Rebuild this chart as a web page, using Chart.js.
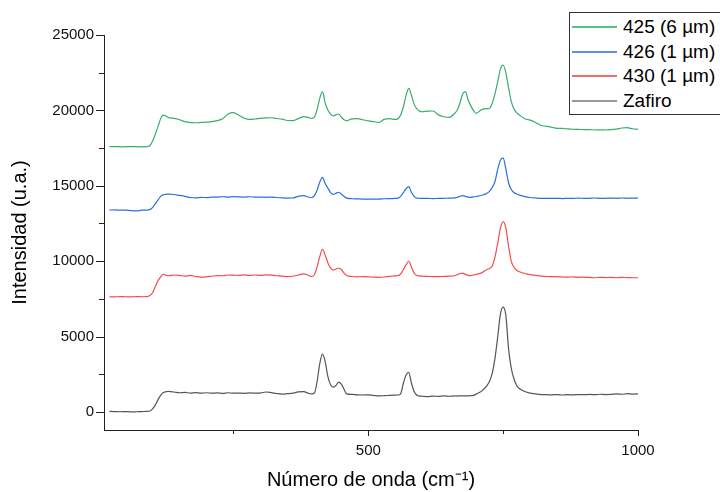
<!DOCTYPE html>
<html>
<head>
<meta charset="utf-8">
<script src="https://cdn.jsdelivr.net/npm/chart.js@4"></script>
<style>
  html, body { margin: 0; padding: 0; background: #fff; overflow: hidden; }
  #wrap { position: relative; width: 720px; height: 492px; }
  #legend { position: absolute; left: 569px; top: 12px; width: 170px; height: 103px; border: 1px solid #333; background: #fff; box-sizing: border-box; }
  .row { position: absolute; left: 0; height: 24px; width: 170px; font-family: 'Liberation Sans', Arial, sans-serif; font-size: 19px; color: #000; }
  .row .ln { position: absolute; left: 2px; top: 11px; width: 45px; height: 2px; }
  .row .tx { position: absolute; left: 53px; top: 0; line-height: 24px; white-space: nowrap; }
</style>
</head>
<body>
<div id="wrap">
  <canvas id="c" width="720" height="492"></canvas>
  <div id="legend"></div>
</div>
<script>
const seriesLabels = ['425 (6 µm)', '426 (1 µm)', '430 (1 µm)', 'Zafiro'];
const seriesColors = ['#38ad6c', '#2a6fdc', '#f24c4c', '#555555'];
const legendColors = ['#5cc08a', '#5a92e6', '#f46a6a', '#999999'];

const wavenumbers = [20,30,40,50,60,70,80,90,95,100,105,110,115,120,125,130,
  140,150,160,170,180,190,200,210,220,230,240,250,260,270,280,290,300,310,320,330,340,350,360,370,380,390,
  395,400,405,410,415,420,425,430,435,440,445,450,455,
  460,470,480,490,500,510,520,530,540,550,
  555,560,565,570,575,580,585,590,595,
  600,610,620,630,640,650,660,
  665,670,675,680,685,690,695,
  700,710,720,
  725,730,735,740,745,750,755,760,765,770,775,780,
  790,800,810,820,830,840,850,860,870,880,890,900,910,920,930,940,950,960,970,980,990,1000];

const s425 = [17590,17600,17580,17590,17600,17590,17580,17600,
  17650,17950,18400,18920,19450,19690,19620,19520,
  19470,19380,19250,19190,19180,19200,19220,19250,19320,19450,19760,19850,19680,19480,19400,19430,19470,19500,19510,19460,19420,19330,19320,19450,19580,19520,
  19470,19550,20050,20800,21240,20500,20020,19750,19630,19720,19760,19550,19380,
  19310,19440,19450,19380,19300,19250,19200,19420,19450,19400,
  19450,19700,20240,21000,21460,21000,20400,20100,19950,
  19910,19950,19960,19700,19580,19540,19800,
  20020,20500,21100,21250,20700,20300,20000,
  19800,20050,20120,
  20140,20500,21130,21900,22750,23010,22500,21500,20600,20100,19850,19700,
  19450,19350,19200,19000,18950,18880,18810,18800,18770,18750,18740,18720,18730,18700,18710,18700,18720,18760,18830,18850,18780,18740];

const s426 = [13390,13400,13380,13390,13350,13330,13380,13390,
  13420,13550,13800,14050,14300,14400,14430,14440,
  14420,14360,14300,14220,14200,14230,14210,14240,14250,14270,14250,14280,14260,14250,14270,14240,14250,14230,14250,14220,14200,14180,14190,14300,14340,14240,
  14220,14350,14700,15250,15560,15150,14850,14550,14430,14500,14570,14450,14300,
  14180,14140,14130,14120,14120,14110,14120,14140,14150,14160,
  14180,14300,14550,14800,14940,14550,14300,14180,14170,
  14160,14160,14150,14160,14170,14180,14200,
  14230,14300,14340,14300,14250,14230,14260,
  14290,14370,14500,
  14650,14900,15300,16100,16700,16850,16100,15200,14750,14550,14450,14380,
  14280,14220,14190,14170,14170,14160,14170,14150,14170,14160,14180,14160,14170,14190,14160,14170,14180,14170,14190,14170,14180,14180];

const s430 = [7640,7630,7650,7640,7630,7650,7640,7650,
  7720,7900,8300,8700,8950,9130,9060,9030,
  9080,9060,9000,9050,8980,8940,8960,9000,9040,9030,9080,9070,9060,9090,9050,9080,9060,9090,9070,9030,9010,8970,9000,9080,9150,9050,
  8980,9100,9600,10300,10790,10400,9900,9550,9410,9480,9530,9450,9200,
  9050,8980,8960,8970,8960,8940,8930,8950,8990,9020,
  9030,9150,9450,9750,10010,9600,9200,9050,9020,
  9000,8990,8970,8970,8990,9000,9030,
  9100,9180,9200,9120,9060,9040,9080,
  9130,9220,9450,
  9520,9700,10300,11200,12200,12620,12200,11000,10000,9600,9400,9300,
  9180,9100,9050,9010,8980,8970,8960,8950,8940,8960,8930,8940,8920,8900,8930,8910,8920,8900,8920,8910,8900,8900];

const zafiro = [30,20,10,25,0,10,25,30,
  60,200,450,800,1100,1280,1340,1360,
  1320,1270,1290,1250,1280,1240,1270,1240,1260,1230,1270,1240,1250,1230,1260,1240,1250,1320,1280,1220,1180,1210,1240,1330,1340,1220,
  1200,1250,2000,3200,3830,3350,2350,1800,1640,1750,1970,1850,1500,
  1200,1160,1130,1120,1130,1090,1060,1080,1100,1110,
  1120,1200,1900,2450,2620,1900,1350,1100,1050,
  1040,1020,1050,1030,1060,1040,1060,
  1050,1070,1060,1070,1060,1080,1100,
  1180,1380,1750,
  2050,2600,3600,5000,6500,6950,6400,4200,2900,2200,1750,1550,
  1350,1250,1200,1150,1140,1130,1150,1120,1140,1130,1150,1140,1160,1140,1170,1150,1160,1190,1170,1210,1180,1200];

const xTickValues = [250, 500, 750, 1000];
const yTickValues = [0,2500,5000,7500,10000,12500,15000,17500,20000,22500,25000];

const allSeries = [s425, s426, s430, zafiro];
const FONT = "'Liberation Sans', Arial, sans-serif";

const datasets = allSeries.map((vals, i) => ({
  label: seriesLabels[i],
  data: wavenumbers.map((w, k) => ({ x: w, y: vals[k] })),
  borderColor: seriesColors[i],
  backgroundColor: seriesColors[i],
  borderWidth: 1.2,
  pointRadius: 0,
  cubicInterpolationMode: 'monotone',
  fill: false
}));

const tickMarks = {
  id: 'tickMarks',
  afterDraw(chart) {
    const { ctx, scales: { x, y }, chartArea: a } = chart;
    ctx.save();
    ctx.strokeStyle = '#222';
    ctx.lineWidth = 1;
    ctx.beginPath();
    xTickValues.forEach(v => {
      const px = Math.round(x.getPixelForValue(v)) + 0.5;
      const len = (v % 500 === 0) ? 6 : 4;
      ctx.moveTo(px, a.bottom);
      ctx.lineTo(px, a.bottom + len);
    });
    yTickValues.forEach(v => {
      const py = Math.round(y.getPixelForValue(v)) + 0.5;
      const len = (v % 5000 === 0) ? 8 : 5;
      ctx.moveTo(a.left, py);
      ctx.lineTo(a.left - len, py);
    });
    ctx.stroke();
    ctx.restore();
  }
};

const chart = new Chart(document.getElementById('c'), {
  type: 'line',
  data: { datasets },
  options: {
    responsive: false,
    devicePixelRatio: 1,
    animation: false,
    layout: { padding: { top: 35, right: 82, left: 0, bottom: 0 } },
    plugins: { legend: { display: false }, tooltip: { enabled: false } },
    scales: {
      x: {
        type: 'linear',
        min: 10, max: 1000,
        afterBuildTicks: s => { s.ticks = xTickValues.map(v => ({ value: v })); },
        afterFit: s => { s.height = 62; },
        grid: { display: true, drawOnChartArea: false, drawTicks: false },
        border: { display: true, color: '#222', width: 1 },
        ticks: {
          padding: 12,
          color: '#111',
          font: { family: FONT, size: 15 },
          maxRotation: 0,
          autoSkip: false,
          callback: v => (v % 500 === 0 ? String(v) : '')
        },
        title: {
          display: true,
          text: 'Número de onda (cm⁻¹)',
          color: '#000',
          font: { family: FONT, size: 20 },
          padding: { top: 0, bottom: 0 }
        }
      },
      y: {
        type: 'linear',
        min: -1200, max: 25000,
        afterBuildTicks: s => { s.ticks = yTickValues.map(v => ({ value: v })); },
        afterFit: s => { s.width = 104; },
        grid: { display: true, drawOnChartArea: false, drawTicks: false },
        border: { display: true, color: '#222', width: 1 },
        ticks: {
          padding: 10,
          color: '#111',
          font: { family: FONT, size: 15 },
          autoSkip: false,
          callback: v => (v % 5000 === 0 ? String(v) : '')
        },
        title: {
          display: true,
          text: 'Intensidad (u.a.)',
          color: '#000',
          font: { family: FONT, size: 20 },
          padding: { top: 8, bottom: 0 }
        }
      }
    }
  },
  plugins: [tickMarks]
});

const legend = document.getElementById('legend');
seriesLabels.forEach((label, i) => {
  const row = document.createElement('div');
  row.className = 'row';
  row.style.top = (2 + i * 24.7) + 'px';
  const ln = document.createElement('div');
  ln.className = 'ln';
  ln.style.backgroundColor = legendColors[i];
  const tx = document.createElement('div');
  tx.className = 'tx';
  tx.textContent = label;
  row.appendChild(ln);
  row.appendChild(tx);
  legend.appendChild(row);
});
</script>
</body>
</html>
